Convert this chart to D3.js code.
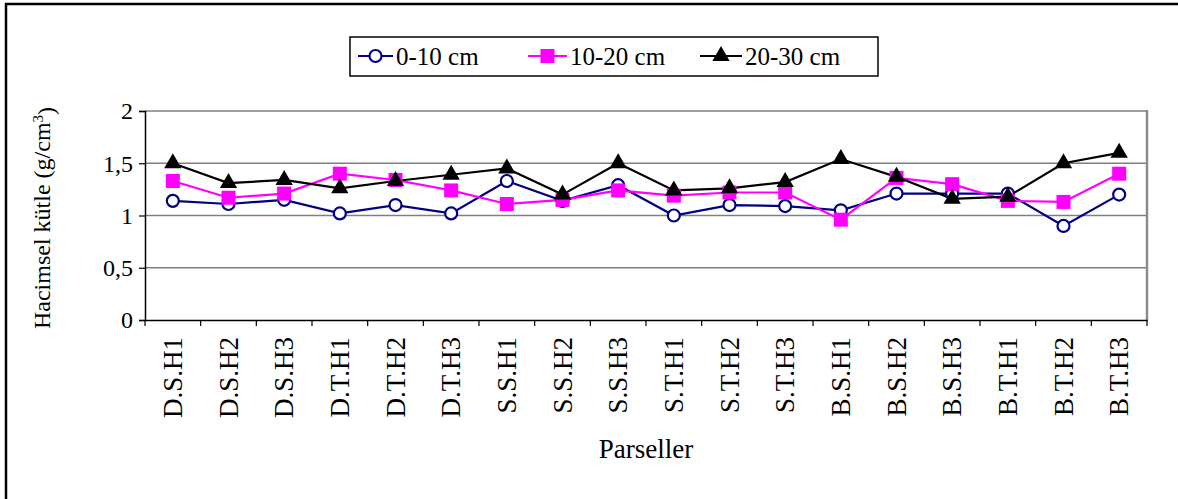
<!DOCTYPE html>
<html>
<head>
<meta charset="utf-8">
<script src="https://cdn.jsdelivr.net/npm/d3@7"></script>
<style>
  body { margin: 0; background: #fff; }
  svg text { font-family: "Liberation Serif", "Times New Roman", serif; fill: #000; }
</style>
</head>
<body>
<div id="chart"></div>
<script>
// parcel names along the x axis
var parcels = ["D.S.H1","D.S.H2","D.S.H3","D.T.H1","D.T.H2","D.T.H3",
               "S.S.H1","S.S.H2","S.S.H3","S.T.H1","S.T.H2","S.T.H3",
               "B.S.H1","B.S.H2","B.S.H3","B.T.H1","B.T.H2","B.T.H3"];

// bulk density (g/cm3) per depth
var depth0_10  = [1.14,1.11,1.15,1.02,1.10,1.02,1.33,1.14,1.29,1.00,1.10,1.09,1.05,1.21,1.21,1.21,0.90,1.20];
var depth10_20 = [1.33,1.17,1.21,1.40,1.34,1.24,1.11,1.15,1.24,1.19,1.22,1.22,0.96,1.36,1.30,1.14,1.13,1.40];
var depth20_30 = [1.50,1.31,1.34,1.26,1.33,1.39,1.45,1.20,1.50,1.24,1.26,1.32,1.54,1.37,1.16,1.18,1.50,1.60];

var seriesNames = ["0-10 cm", "10-20 cm", "20-30 cm"];
var yTicks = [0, 0.5, 1, 1.5, 2];

var w = 1178, h = 499;
var plotLeft = 145, plotRight = 1147, plotTop = 111, plotBottom = 320;
var serif = "Liberation Serif, Times New Roman, serif";

var svg = d3.select("#chart").append("svg")
    .attr("width", w)
    .attr("height", h)
    .attr("font-family", serif);

// outer frame (only left + top show in the picture)
svg.append("path")
    .attr("d", "M6," + h + " L6,4 L" + w + ",4")
    .style("fill", "none")
    .style("stroke", "#000")
    .style("stroke-width", 2.5);

var x = d3.scaleBand().domain(parcels).range([plotLeft, plotRight]);
var y = d3.scaleLinear().domain([0, 2]).range([plotBottom, plotTop]);

// gridlines
svg.append("g")
    .selectAll("line")
    .data(yTicks.slice(1))
    .enter().append("line")
    .attr("x1", plotLeft).attr("x2", plotRight)
    .attr("y1", function(d){ return y(d); })
    .attr("y2", function(d){ return y(d); })
    .style("stroke", "#7f7f7f")
    .style("stroke-width", 1.5);

// plot border right side
svg.append("line")
    .attr("x1", plotRight).attr("x2", plotRight)
    .attr("y1", plotTop - 1).attr("y2", plotBottom)
    .style("stroke", "#8c8c8c")
    .style("stroke-width", 2.5);

// y axis
var yAxis = d3.axisLeft(y).tickValues(yTicks).tickSize(6).tickPadding(6)
    .tickFormat(function(d){ return String(d).replace(".", ","); });
var gy = svg.append("g")
    .attr("transform", "translate(" + plotLeft + ",0)")
    .call(yAxis)
    .attr("font-family", serif)
    .attr("font-size", 24);
gy.select(".domain").style("stroke", "#000").style("stroke-width", 1.5);
gy.selectAll(".tick line").style("stroke", "#000").style("stroke-width", 1.2);
gy.selectAll("text")
    .style("font-family", serif)
    .style("font-size", "24px")
    .attr("dy", "0.33em");

// x axis: ticks between categories
var xAxis = d3.axisBottom(x).tickSize(0).tickFormat("");
var gx = svg.append("g")
    .attr("transform", "translate(0," + plotBottom + ")")
    .call(xAxis);
gx.select(".domain").style("stroke", "#000").style("stroke-width", 1.5);

svg.append("g")
    .selectAll("line")
    .data(d3.range(parcels.length + 1))
    .enter().append("line")
    .attr("x1", function(i){ return plotLeft + i * x.step(); })
    .attr("x2", function(i){ return plotLeft + i * x.step(); })
    .attr("y1", plotBottom).attr("y2", plotBottom + 6)
    .style("stroke", "#000")
    .style("stroke-width", 1.2);

svg.append("g")
    .selectAll("text")
    .data(parcels)
    .enter().append("text")
    .attr("transform", function(d){
        return "translate(" + (x(d) + x.bandwidth() / 2 + 9) + "," + (plotBottom + 17) + ") rotate(-90)";
    })
    .attr("text-anchor", "end")
    .style("font-size", "27px")
    .text(function(d){ return d; });

// axis titles
svg.append("text")
    .attr("x", 646).attr("y", 458)
    .attr("text-anchor", "middle")
    .style("font-size", "27px")
    .text("Parseller");

var yt = svg.append("text")
    .attr("transform", "translate(50,218) rotate(-90)")
    .attr("text-anchor", "middle")
    .style("font-size", "24px");
yt.append("tspan").text("Hacimsel kütle (g/cm");
yt.append("tspan").attr("dy", "-0.45em").style("font-size", "15px").text("3");
yt.append("tspan").attr("dy", "0.45em").text(")");

// series
var series = [
    { name: seriesNames[0], values: depth0_10,  color: "#000080", marker: "circle" },
    { name: seriesNames[1], values: depth10_20, color: "#ff00ff", marker: "square" },
    { name: seriesNames[2], values: depth20_30, color: "#000000", marker: "triangle" }
];

var line = d3.line()
    .x(function(d, i){ return x(parcels[i]) + x.bandwidth() / 2; })
    .y(function(d){ return y(d); });

function drawMarker(g, type, color) {
    if (type == "circle") {
        g.append("circle").attr("r", 6)
            .style("fill", "#fff").style("stroke", color).style("stroke-width", 2.2);
    } else if (type == "square") {
        g.append("rect").attr("x", -7).attr("y", -7).attr("width", 14).attr("height", 14)
            .style("fill", color);
    } else {
        g.append("path").attr("d", d3.symbol().type(d3.symbolTriangle).size(130)())
            .style("fill", color);
    }
}

series.forEach(function(s){
    svg.append("path")
        .datum(s.values)
        .attr("d", line)
        .style("fill", "none")
        .style("stroke", s.color)
        .style("stroke-width", 2.2);
});

series.forEach(function(s){
    s.values.forEach(function(v, i){
        var g = svg.append("g")
            .attr("transform", "translate(" + (x(parcels[i]) + x.bandwidth() / 2) + "," + y(v) + ")");
        drawMarker(g, s.marker, s.color);
    });
});

// legend
var legend = svg.append("g");
legend.append("rect")
    .attr("x", 350).attr("y", 37).attr("width", 528).attr("height", 39)
    .style("fill", "#fff").style("stroke", "#000").style("stroke-width", 1.5);

var legendPos = [{ x1: 358, x2: 393 }, { x1: 528, x2: 567 }, { x1: 700, x2: 742 }];
series.forEach(function(s, i){
    var p = legendPos[i];
    legend.append("line")
        .attr("x1", p.x1).attr("x2", p.x2).attr("y1", 56).attr("y2", 56)
        .style("stroke", s.color).style("stroke-width", 2.2);
    var g = legend.append("g").attr("transform", "translate(" + ((p.x1 + p.x2) / 2) + ",56)");
    drawMarker(g, s.marker, s.color);
    legend.append("text")
        .attr("x", p.x2 + 3).attr("y", 56).attr("dy", "0.35em")
        .style("font-size", "25px")
        .text(s.name);
});
</script>
</body>
</html>
